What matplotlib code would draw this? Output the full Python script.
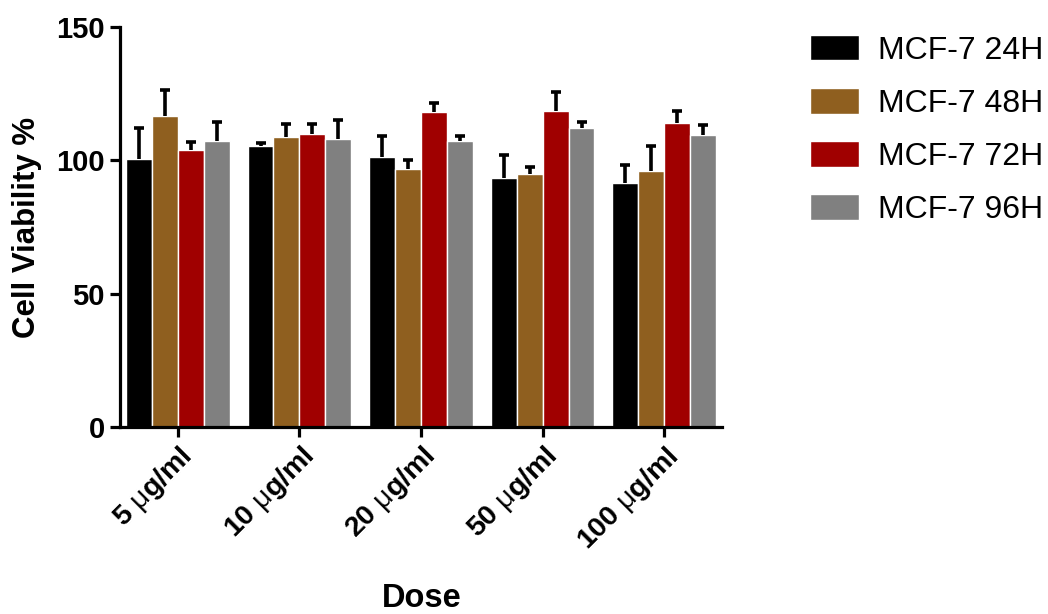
import numpy as np
import matplotlib
matplotlib.use('Agg')
import matplotlib.pyplot as plt

plt.rcParams['font.family'] = ['Liberation Sans', 'DejaVu Sans']
plt.rcParams['mathtext.fontset'] = 'custom'
plt.rcParams['mathtext.rm'] = 'Liberation Sans'

doses = [r'5 $\mathrm{\mu}$g/ml', r'10 $\mathrm{\mu}$g/ml', r'20 $\mathrm{\mu}$g/ml',
         r'50 $\mathrm{\mu}$g/ml', r'100 $\mathrm{\mu}$g/ml']
series = ['MCF-7 24H', 'MCF-7 48H', 'MCF-7 72H', 'MCF-7 96H']
colors = ['#000000', '#8f5f1f', '#a00000', '#808080']

v24 = [100.5, 105.5, 101.2, 93.5, 91.6]
v48 = [116.7, 108.7, 96.8, 94.8, 96.1]
v72 = [104.0, 109.7, 118.1, 118.6, 114.1]
v96 = [107.2, 108.0, 107.2, 112.1, 109.6]

e24 = [11.7, 1.0, 8.0, 8.5, 6.8]
e48 = [9.5, 4.8, 3.2, 2.8, 9.4]
e72 = [3.0, 3.8, 3.3, 7.0, 4.3]
e96 = [7.1, 7.0, 1.8, 2.3, 3.7]

values = [v24, v48, v72, v96]
errors = [e24, e48, e72, e96]

fig = plt.figure(figsize=(10.48, 6.14), dpi=100)
ax = fig.add_axes([0.1145, 0.3046, 0.5745, 0.6514])

x = np.arange(len(doses))
w = 0.213
for i in range(len(series)):
    pos = x + (i - 1.5) * w
    ax.bar(pos, values[i], w, color=colors[i], edgecolor='white', linewidth=1.0,
           label=series[i], zorder=2)
    eb = ax.errorbar(pos, values[i], yerr=[np.zeros(len(doses)), errors[i]], fmt='none',
                     ecolor='black', elinewidth=2.6, capsize=3.6, capthick=2.6, zorder=3)
    # only the upper cap is wanted
    eb[1][0].set_visible(False)

ax.set_xlim(-0.475, 4.475)
ax.set_ylim(0, 150)
ax.set_yticks([0, 50, 100, 150])
ax.set_xticks(x)
ax.set_xticklabels(doses, rotation=45, ha='right', rotation_mode='anchor',
                   fontsize=20.5, fontweight='bold')
for lab in ax.get_yticklabels():
    lab.set_fontsize(21)
    lab.set_fontweight('bold')

ax.spines['top'].set_visible(False)
ax.spines['right'].set_visible(False)
ax.spines['left'].set_linewidth(2.3)
ax.spines['bottom'].set_linewidth(2.3)
ax.tick_params(axis='both', length=7, width=2.3, pad=4)

ax.set_ylabel('Cell Viability %', fontsize=22.5, fontweight='bold', labelpad=10)
fig.text(0.402, 0.0, 'Dose', fontsize=23.5, fontweight='bold', ha='center', va='bottom')

fig.legend(loc='upper left', bbox_to_anchor=(0.745, 0.99), frameon=False, fontsize=23,
           handlelength=1.55, handleheight=0.85, labelspacing=0.7, handletextpad=0.6)

fig.savefig('out.png', dpi=100)
